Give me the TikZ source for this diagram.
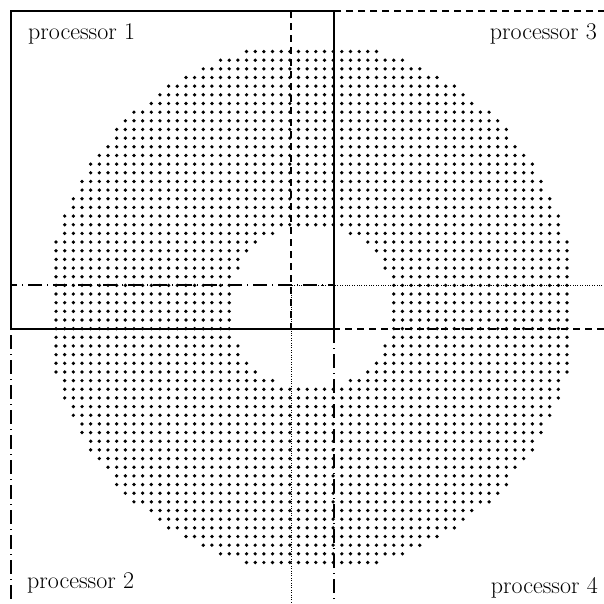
\documentclass[tikz,border=0pt]{standalone}
\begin{document}
\begin{tikzpicture}[x=1pt,y=-1pt,
  solidbox/.style={line width=1.3pt},
  dashbox/.style={line width=1.2pt, dash pattern=on 7pt off 5pt},
  dashdotbox/.style={line width=1.2pt, dash pattern=on 14pt off 5pt on 1pt off 5pt},
  dotbox/.style={line width=0.8pt, dash pattern=on 0.8pt off 1.6pt},
  proclabel/.style={font=\fontsize{24}{28}\selectfont, inner sep=0pt},
  griddot/.style={fill=black}]
\useasboundingbox (0,0) rectangle (604,603);
\fill[white] (0,0) rectangle (604,603);
\clip (0,0) rectangle (604,603);
% grid points of the annulus
\foreach \i in {-30,...,29}{
  \foreach \j in {-30,...,29}{
    \pgfmathsetmacro\rr{(\i+0.5)*(\i+0.5)+(\j+0.5)*(\j+0.5)}
    \ifdim\rr pt<930.3pt\relax
      \ifdim\rr pt>90.3pt\relax
        \pgfmathsetmacro\xx{311.5+8.66*(\i+0.5)}
        \pgfmathsetmacro\yy{307+8.66*(\j+0.5)}
        \fill[griddot] (\xx,\yy) circle (1.85);
      \fi
    \fi
  }
}
% processor 4 (dotted)
\draw[dotbox] (291,285) rectangle (640,640);
% processor 3 (dashed)
\draw[dashbox] (291,11) rectangle (640,329);
% processor 2 (dash-dot)
\draw[dashdotbox] (11,285) rectangle (334,640);
% processor 1 (solid)
\draw[solidbox] (11,11) rectangle (334,329);
% labels
\node[proclabel, anchor=base west] (p1) at (28,39) {processor 1};
\node[proclabel, anchor=base east] (p3) at (597,39) {processor 3};
\node[proclabel, anchor=base west] (p2) at (27,588) {processor 2};
\node[proclabel, anchor=base east] (p4) at (598,593) {processor 4};
\end{tikzpicture}
\end{document}
